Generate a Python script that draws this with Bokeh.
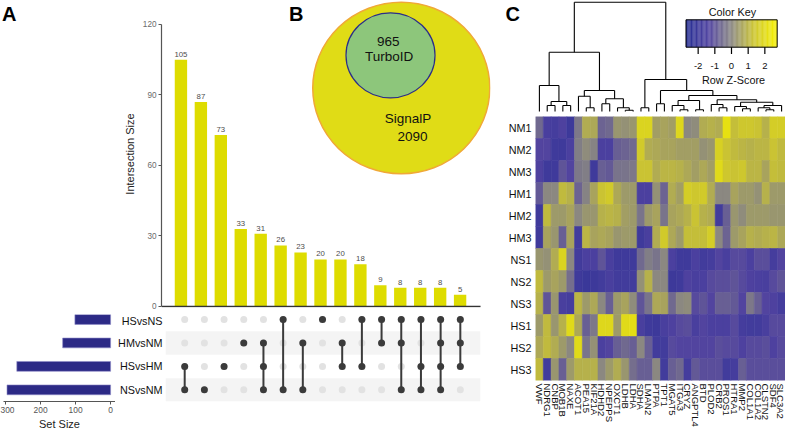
import math
import numpy as np
from bokeh.plotting import figure
from bokeh.layouts import row, column
from bokeh.models import Range1d, FactorRange, LinearAxis, CategoricalAxis, FixedTicker, ColumnDataSource
from bokeh.transform import linear_cmap
from bokeh.core.properties import value
from bokeh.embed import file_html
from bokeh.resources import INLINE

FONT = "Liberation Sans"

# ---------------- data ----------------
intersection_sizes = [105, 87, 73, 33, 31, 26, 23, 20, 20, 18, 9, 8, 8, 8, 5]
intersection_members = [
    ["HSvsHM", "NSvsNM"],
    ["NSvsNM"],
    ["HSvsHM"],
    ["HMvsNM"],
    ["HMvsNM", "HSvsHM", "NSvsNM"],
    ["HSvsNS", "NSvsNM"],
    ["HMvsNM", "NSvsNM"],
    ["HSvsNS"],
    ["HMvsNM", "HSvsHM"],
    ["HSvsNS", "HSvsHM"],
    ["HSvsNS", "HMvsNM"],
    ["HSvsNS", "HMvsNM", "NSvsNM"],
    ["HSvsNS", "HSvsHM", "NSvsNM"],
    ["HSvsNS", "HMvsNM", "HSvsHM", "NSvsNM"],
    ["HSvsNS", "HMvsNM", "HSvsHM"],
]
set_names = ["HSvsNS", "HMvsNM", "HSvsHM", "NSvsNM"]
set_sizes = [102, 137, 268, 296]
intersection_ticks = [0, 30, 60, 90, 120]
set_size_ticks = [0, 100, 200, 300]

venn_small_label = ["965", "TurboID"]
venn_big_label = ["SignalP", "2090"]
panel_letters = ["A", "B", "C"]

genes = ["VWF", "NDRG1", "CNBP", "MOB1B", "NAXE", "ACOT1", "PEA15", "KIF21A", "HDHD2",
         "NPEPPS", "OXCT1", "LDHB", "LDHA", "SDHA", "LMAN2", "PTPA", "TPT1", "MGAT5",
         "ITGA3", "CRYZ", "ANGPTL4", "BTD", "PLOD2", "CRB2", "PROS1", "HTRA1", "MMP2",
         "COL1A1", "COL1A2", "CLSTN2", "SDF4", "SLC3A2"]
samples = ["NM1", "NM2", "NM3", "HM1", "HM2", "HM3", "NS1", "NS2", "NS3", "HS1", "HS2", "HS3"]

z_NM1 = [-0.6, -1.6, -1.7, -1.4, -2.0, -0.3, 0.8, 0.7, -0.7, -0.6, 0.3, 0.2, 0.3, 1.8, 1.8, 0.5,
         0.6, 0.5, 1.9, 0.0, 0.1, 0.8, 0.9, 0.8, 2.2, 1.2, 1.4, 1.4, 1.3, 0.9, 1.6, 1.6]
z_NM2 = [-1.3, -1.3, -1.9, -1.9, -1.5, -0.2, 0.1, -0.1, -1.5, -1.5, -0.8, -0.7, -0.6, 1.5, 0.8, 0.7,
         0.6, 0.6, 0.5, 0.5, 0.5, 0.2, 0.3, 1.7, 1.3, 1.1, 1.0, 0.9, 1.0, 1.0, 1.3, 1.1]
z_NM3 = [-1.4, -1.9, -1.9, -1.0, -1.3, -0.3, -0.2, -1.9, -0.8, -0.9, -0.4, -0.4, -0.3, 1.3, 1.3, 0.8,
         1.0, 1.0, 0.9, 0.7, 0.5, 0.7, 0.5, 2.0, 1.4, 1.3, 1.4, 1.0, 1.0, 0.6, 1.2, 1.1]
z_HM1 = [-0.9, 0.0, 0.0, 1.1, 0.9, -0.7, -0.1, 0.6, 1.3, 1.5, 0.7, 0.4, 0.4, -1.5, -1.5, 0.2,
         -0.7, 0.8, 0.5, 1.6, 1.4, 1.5, 0.8, 0.0, 0.0, 0.6, 0.4, 0.4, 0.2, 0.9, 0.4, 0.4]
z_HM2 = [-1.9, 1.1, 0.4, 0.4, 0.6, 0.0, 0.3, 0.3, 0.9, 1.0, 0.9, 0.5, 0.4, -0.4, 0.4, 0.6,
         -0.4, 0.6, 0.7, 0.9, 1.3, 0.9, 0.8, -1.8, -0.8, 0.3, 0.1, 0.4, 0.4, 0.4, 0.3, 0.3]
z_HM3 = [-1.9, 0.6, 0.3, -0.8, 0.6, -1.8, 1.0, 0.6, 0.7, 0.6, 0.3, 0.4, 0.4, -1.9, -1.6, 0.8,
         1.5, 0.7, 0.4, 1.2, 1.2, 1.2, 1.6, 0.0, -0.7, 0.4, 0.6, 0.9, 0.8, 0.9, 1.0, 0.7]
z_NS1 = [0.3, 0.2, 0.8, 1.8, 0.0, -1.8, -1.5, -1.5, -1.0, -1.6, -1.9, -1.9, -1.9, -0.6, -0.2, -0.4,
         0.0, -1.5, -1.9, -1.9, -1.5, -1.8, -1.7, -1.3, -1.6, -1.2, -1.2, -1.5, -1.1, -1.1, -1.7, -1.3]
z_NS2 = [1.1, 0.4, 0.6, 0.4, -0.5, -1.9, -2.1, -2.0, -1.8, -1.6, -1.8, -1.8, -1.8, 0.2, 0.9, 0.0,
         0.0, -2.0, -1.9, -1.4, -1.6, -1.5, -1.2, -1.1, -1.1, -1.0, -1.2, -1.4, -1.5, -1.6, -1.2, -1.0]
z_NS3 = [0.9, -1.0, 0.3, -1.6, -1.7, 1.0, 0.4, 0.7, 0.0, -0.8, 0.4, 0.6, 0.1, -1.0, -0.4, 0.7,
         0.6, -0.6, 0.0, 0.1, -1.2, -1.0, -1.3, -0.8, -0.8, -0.9, -1.3, -0.3, -0.8, -1.3, -1.4, -1.7]
z_HS1 = [0.4, 1.1, 0.3, 0.9, 2.0, 0.7, -0.8, -0.3, 1.9, 1.9, 0.4, 2.0, 2.1, -1.6, -1.9, -2.0,
         -1.6, -1.4, -1.2, -1.1, -1.6, -1.3, -1.5, -1.5, -1.5, -1.2, -1.7, -1.8, -1.8, -1.6, -1.2, -1.2]
z_HS2 = [0.7, 1.1, 0.8, 0.4, 0.0, 2.0, -0.4, 0.2, -1.5, -1.3, -0.8, -0.6, -0.8, 0.0, -0.8, -1.8,
         -1.8, -1.2, -1.3, -1.3, -1.3, -1.3, -1.3, -1.1, -1.2, -1.2, -1.4, -1.2, -1.2, -1.1, -1.4, -1.2]
z_HS3 = [1.1, -1.8, 0.3, -0.8, 0.4, 0.9, 0.9, 0.9, 0.0, 0.4, 0.8, 0.3, -0.5, -0.8, -0.8, 0.0,
         -1.8, -0.8, -0.6, -1.7, -0.9, -1.1, -1.1, -1.1, -1.8, -1.7, -0.8, -1.1, -1.1, -1.1, -1.1, -1.1]

key_ticks = [-2, -1, 0, 1, 2]

# column dendrogram: (left node, right node, merge height); leaves 0..31, merges numbered from 32
dendro_merges = [
    (1, 2, 6.0), (3, 4, 6.0), (32, 33, 10.0), (0, 34, 26.0),
    (6, 7, 3.7), (5, 36, 15.3), (8, 9, 7.7), (11, 12, 1.3), (10, 39, 3.7),
    (38, 40, 12.7), (37, 41, 21.0), (35, 42, 59.3),
    (13, 14, 3.7), (15, 16, 7.7), (18, 19, 1.7), (17, 46, 6.0), (20, 21, 1.7),
    (47, 48, 11.0), (23, 24, 3.7), (22, 50, 7.0), (26, 27, 2.7), (25, 52, 5.0),
    (29, 30, 1.7), (28, 54, 3.7), (55, 31, 6.0), (53, 56, 9.3), (51, 57, 11.7),
    (49, 58, 16.0), (45, 59, 21.0), (44, 60, 32.0), (43, 61, 109.3),
]


def base_fig(**kw):
    p = figure(output_backend="svg", toolbar_location=None, title=None,
               x_axis_type=None, y_axis_type=None, **kw)
    p.outline_line_color = None
    p.background_fill_color = "white"
    p.border_fill_color = "white"
    return p


def style_text(r, size, color="black", bold=False):
    r.glyph.text_font = value(FONT)
    r.glyph.text_font_size = value(f"{size}px")
    r.glyph.text_color = color
    r.glyph.text_font_style = "bold" if bold else "normal"


# palette: dark blue -> grey -> yellow
stops = [(0.0, (40, 48, 148)), (0.25, (80, 66, 160)), (0.5, (138, 136, 130)),
         (0.75, (204, 197, 48)), (1.0, (246, 240, 0))]
palette = []
for i in range(256):
    tt = i / 255.0
    for (p0, c0), (p1, c1) in zip(stops[:-1], stops[1:]):
        if p0 <= tt <= p1:
            f = (tt - p0) / (p1 - p0)
            rgb = [int(round(a + (b - a) * f)) for a, b in zip(c0, c1)]
            palette.append("#%02x%02x%02x" % tuple(rgb))
            break
Z_LOW, Z_HIGH = -2.7, 2.7

TOTAL_H = 432
colA_w = 495
colC_w = 785 - colA_w

# ---------------- panel A: intersection bars + Venn (B) ----------------
n_int = len(intersection_sizes)
idx = list(range(n_int))
letter_w = 120
top_left_b, top_right_b = 160 - letter_w, 5
top_bottom_b = 7
top_frame_h = 307
top_h = top_frame_h + top_bottom_b
x_lo, x_hi = -0.975, n_int + 0.025
x_hi_top = x_hi + 0.5

# small figure that carries the panel letter "A"
fig_letter_a = base_fig(width=letter_w, height=top_h, x_range=Range1d(0, letter_w),
                        y_range=Range1d(top_frame_h, 0),
                        min_border_left=0, min_border_right=0, min_border_top=0,
                        min_border_bottom=top_bottom_b)
t = fig_letter_a.text(x=[1.5], y=[13], text=[panel_letters[0]], text_align="left", text_baseline="middle")
style_text(t, 20, "black", bold=True)

fig_top = base_fig(width=colA_w - letter_w, height=top_h,
                   x_range=Range1d(x_lo, x_hi_top), y_range=Range1d(-0.43, 130.2),
                   min_border_left=top_left_b, min_border_right=top_right_b,
                   min_border_top=0, min_border_bottom=top_bottom_b)
yax = LinearAxis(bounds=(0, 120), ticker=FixedTicker(ticks=intersection_ticks),
                 axis_label="Intersection Size")
yax.axis_line_color = "#555555"
yax.axis_line_width = 1.2
yax.major_tick_line_color = "#555555"
yax.major_tick_out = 3
yax.major_tick_in = 0
yax.minor_tick_line_color = None
yax.major_label_text_font = FONT
yax.major_label_text_font_size = "8.2px"
yax.major_label_text_color = "#6b6b6b"
yax.major_label_standoff = 2
yax.axis_label_text_font = FONT
yax.axis_label_text_font_size = "11px"
yax.axis_label_text_font_style = "normal"
yax.axis_label_text_color = "#222222"
yax.axis_label_standoff = 4
fig_top.add_layout(yax, "left")

fig_top.vbar(x=idx, top=intersection_sizes, width=0.62, fill_color="#dedc00", line_color=None)
t = fig_top.text(x=idx, y=intersection_sizes, text=[str(v) for v in intersection_sizes],
                 text_align="center", text_baseline="bottom", y_offset=-3)
style_text(t, 7.8, "#4d4d4d")
fig_top.segment(x0=[x_lo], x1=[x_hi], y0=[0], y1=[0], line_color="#333333", line_width=1.6)

# Venn (panel B) in a pixel-like frame coordinate system
fig_top.extra_x_ranges = {"vx": Range1d(160, 490)}
fig_top.extra_y_ranges = {"vy": Range1d(307, 0)}
fig_top.ellipse(x=[400.5], y=[87.5], width=[177.6], height=[171.6],
                x_range_name="vx", y_range_name="vy",
                fill_color="#e0dc16", line_color="#f0a838", line_width=1.5)
fig_top.ellipse(x=[389.7], y=[54.8], width=[89.3], height=[85.0],
                x_range_name="vx", y_range_name="vy",
                fill_color="#8dc67b", line_color="#2b2d8a", line_width=1.2)
t = fig_top.text(x=[387.5, 388.3], y=[41.3, 55.8], text=venn_small_label,
                 x_range_name="vx", y_range_name="vy", text_align="center", text_baseline="middle")
style_text(t, 13.5, "#111111")
t = fig_top.text(x=[407.3, 411.7], y=[117.5, 135.5], text=venn_big_label,
                 x_range_name="vx", y_range_name="vy", text_align="center", text_baseline="middle")
style_text(t, 13.5, "#111111")
t = fig_top.text(x=[288], y=[13], text=[panel_letters[1]], x_range_name="vx", y_range_name="vy",
                 text_align="left", text_baseline="middle")
style_text(t, 20, "black", bold=True)

# ---------------- panel A: set sizes + matrix ----------------
n_sets = len(set_names)
row_pos = {s: n_sets - 1 - i for i, s in enumerate(set_names)}   # HSvsNS on top
bot_h = TOTAL_H - top_h
bot_border = 31
bot_frame_h = bot_h - bot_border
row_px = 23.45
y_top_val = (n_sets - 1) + (319 - top_h) / row_px
y_bot_val = y_top_val - bot_frame_h / row_px
set_y = [row_pos[s] for s in set_names]

set_w = 115
fig_set = base_fig(width=set_w, height=bot_h, x_range=Range1d(306, -14),
                   y_range=Range1d(y_bot_val, y_top_val),
                   min_border_left=3, min_border_right=0, min_border_top=0,
                   min_border_bottom=bot_border)
fig_set.hbar(y=set_y, left=0, right=set_sizes, height=0.42,
             fill_color="#2c2a86", line_color="#8f8cc8", line_width=0.6)
xax = LinearAxis(ticker=FixedTicker(ticks=set_size_ticks), axis_label="Set Size")
xax.axis_line_color = "#555555"
xax.major_tick_line_color = "#555555"
xax.major_tick_out = 3
xax.major_tick_in = 0
xax.minor_tick_line_color = None
xax.major_label_text_font = FONT
xax.major_label_text_font_size = "8.4px"
xax.major_label_text_color = "#555555"
xax.major_label_standoff = 2
xax.axis_label_text_font = FONT
xax.axis_label_text_font_size = "11px"
xax.axis_label_text_font_style = "normal"
xax.axis_label_text_color = "#222222"
xax.axis_label_standoff = 2
fig_set.add_layout(xax, "below")

mat_w = colA_w - set_w
mat_left_b = 160 - set_w
mat_frame_w = 320
mat_right_b = mat_w - mat_left_b - mat_frame_w
fig_mat = base_fig(width=mat_w, height=bot_h, x_range=Range1d(x_lo, x_hi),
                   y_range=Range1d(y_bot_val, y_top_val),
                   min_border_left=mat_left_b, min_border_right=mat_right_b,
                   min_border_top=0, min_border_bottom=bot_border)
yax2 = LinearAxis(ticker=FixedTicker(ticks=set_y),
                  major_label_overrides={row_pos[s]: s for s in set_names})
yax2.axis_line_color = None
yax2.major_tick_line_color = None
yax2.minor_tick_line_color = None
yax2.major_tick_out = 0
yax2.major_tick_in = 0
yax2.major_label_standoff = 3
yax2.major_label_text_font = FONT
yax2.major_label_text_font_size = "10.8px"
yax2.major_label_text_color = "#111111"
fig_mat.add_layout(yax2, "left")

band_y = [row_pos[s] for s in set_names[1::2]]
fig_mat.hbar(y=band_y, left=x_lo, right=x_hi, height=1.0, fill_color="#f4f4f4", line_color=None)
gx, gy = [], []
for i in idx:
    for s in set_names:
        gx.append(i)
        gy.append(row_pos[s])
fig_mat.scatter(x=gx, y=gy, size=7, fill_color="#e2e2e2", line_color=None)
ax_, ay_, sx0, sx1, sy0, sy1 = [], [], [], [], [], []
for i, mem in zip(idx, intersection_members):
    ordered = [row_pos[s] for s in set_names if s in mem]
    for v in ordered:
        ax_.append(i)
        ay_.append(v)
    if len(ordered) > 1:
        sx0.append(i)
        sx1.append(i)
        sy0.append(max(ordered))
        sy1.append(min(ordered))
fig_mat.segment(x0=sx0, y0=sy0, x1=sx1, y1=sy1, line_color="#3b3b3b", line_width=2)
fig_mat.scatter(x=ax_, y=ay_, size=7, fill_color="#3b3b3b", line_color=None)

# ---------------- panel C: dendrogram + key ----------------
dendro_h = 116
heat_h = TOTAL_H - dendro_h
heat_left_b = 40
heat_frame_w = colC_w - heat_left_b
n_genes = len(genes)
fig_dendro = base_fig(width=colC_w, height=dendro_h,
                      x_range=Range1d(-n_genes * heat_left_b / heat_frame_w, n_genes),
                      y_range=Range1d(-5, 111),
                      min_border_left=0, min_border_right=0, min_border_top=0, min_border_bottom=0)
node_x = {i: i + 0.5 for i in range(n_genes)}
node_h = {i: 0.0 for i in range(n_genes)}
dx0, dy0, dx1, dy1 = [], [], [], []
for k, (a, b, h) in enumerate(dendro_merges):
    xa, xb = node_x[a], node_x[b]
    dx0 += [xa, xb, xa]
    dy0 += [node_h[a], node_h[b], h]
    dx1 += [xa, xb, xb]
    dy1 += [h, h, h]
    node_x[n_genes + k] = (xa + xb) / 2.0
    node_h[n_genes + k] = h
fig_dendro.segment(x0=dx0, y0=dy0, x1=dx1, y1=dy1, line_color="black", line_width=1.1)

# colour key: z units horizontally, pixel-like units vertically
z0_px, px_per_z = 731.0, 16.67
frame_l = 785 - colC_w
fig_dendro.extra_x_ranges = {"kx": Range1d((frame_l - z0_px) / px_per_z, (785 - z0_px) / px_per_z),
                             "px": Range1d(frame_l, 785)}
fig_dendro.extra_y_ranges = {"py": Range1d(116, 0)}
edges = np.linspace(-2.73, 2.73, 110)
centers = (edges[:-1] + edges[1:]) / 2
ksrc = ColumnDataSource(dict(left=edges[:-1], right=edges[1:] + 0.01, zc=centers))
kc = linear_cmap("zc", palette, low=Z_LOW, high=Z_HIGH)
fig_dendro.quad(left="left", right="right", top=19.3, bottom=46.7, source=ksrc,
                x_range_name="kx", y_range_name="py", fill_color=kc, line_color=None)
fig_dendro.quad(left=[-2.73], right=[2.74], top=[19.3], bottom=[46.7],
                x_range_name="kx", y_range_name="py", fill_color=None, line_color="black", line_width=1)
fig_dendro.segment(x0=key_ticks, x1=key_ticks, y0=[46.7] * 5, y1=[53.5] * 5,
                   x_range_name="kx", y_range_name="py", line_color="black", line_width=1.2)
t = fig_dendro.text(x=key_ticks, y=[65.5] * 5, text=[str(v) for v in key_ticks],
                    x_range_name="kx", y_range_name="py", text_align="center", text_baseline="middle")
style_text(t, 9.5, "#111111")
t = fig_dendro.text(x=[0.06, 0.12], y=[11, 79.3], text=["Color Key", "Row Z-Score"],
                    x_range_name="kx", y_range_name="py", text_align="center", text_baseline="middle")
style_text(t, 10.8, "#111111")
t = fig_dendro.text(x=[505], y=[13.7], text=[panel_letters[2]], x_range_name="px", y_range_name="py",
                    text_align="left", text_baseline="middle")
style_text(t, 20, "black", bold=True)

# ---------------- panel C: heatmap ----------------
heat_frame_h = 264
fig_heat = base_fig(width=colC_w, height=heat_h,
                    x_range=FactorRange(factors=genes),
                    y_range=FactorRange(factors=list(reversed(samples))),
                    min_border_left=heat_left_b, min_border_right=0, min_border_top=0,
                    min_border_bottom=heat_h - heat_frame_h)
rows_z = [z_NM1, z_NM2, z_NM3, z_HM1, z_HM2, z_HM3, z_NS1, z_NS2, z_NS3, z_HS1, z_HS2, z_HS3]
hx, hy, hz = [], [], []
for s, zr in zip(samples, rows_z):
    for g, zv in zip(genes, zr):
        hx.append(g)
        hy.append(s)
        hz.append(zv)
hsrc = ColumnDataSource(dict(gene=hx, sample=hy, z=hz))
hc = linear_cmap("z", palette, low=Z_LOW, high=Z_HIGH)
fig_heat.rect(x="gene", y="sample", width=1, height=1, source=hsrc,
              fill_color=hc, line_color=hc, line_width=0.6)

hy_ax = CategoricalAxis()
hy_ax.axis_line_color = None
hy_ax.major_tick_line_color = None
hy_ax.minor_tick_line_color = None
hy_ax.major_tick_out = 0
hy_ax.major_tick_in = 0
hy_ax.major_label_standoff = 4
hy_ax.major_label_text_font = FONT
hy_ax.major_label_text_font_size = "10.8px"
hy_ax.major_label_text_color = "#111111"
fig_heat.add_layout(hy_ax, "left")

hx_ax = CategoricalAxis()
hx_ax.axis_line_color = None
hx_ax.major_tick_line_color = None
hx_ax.minor_tick_line_color = None
hx_ax.major_tick_out = 0
hx_ax.major_tick_in = 0
hx_ax.major_label_standoff = 3
hx_ax.major_label_orientation = -math.pi / 2
hx_ax.major_label_text_font = FONT
hx_ax.major_label_text_font_size = "9.5px"
hx_ax.major_label_text_color = "#111111"
fig_heat.add_layout(hx_ax, "below")

# ---------------- assemble ----------------
colA = column(row(fig_letter_a, fig_top, spacing=0), row(fig_set, fig_mat, spacing=0), spacing=0)
colC = column(fig_dendro, row(fig_heat, spacing=0), spacing=0)
root = row(colA, colC, spacing=0)

open("out.html", "w").write(file_html(root, INLINE))
